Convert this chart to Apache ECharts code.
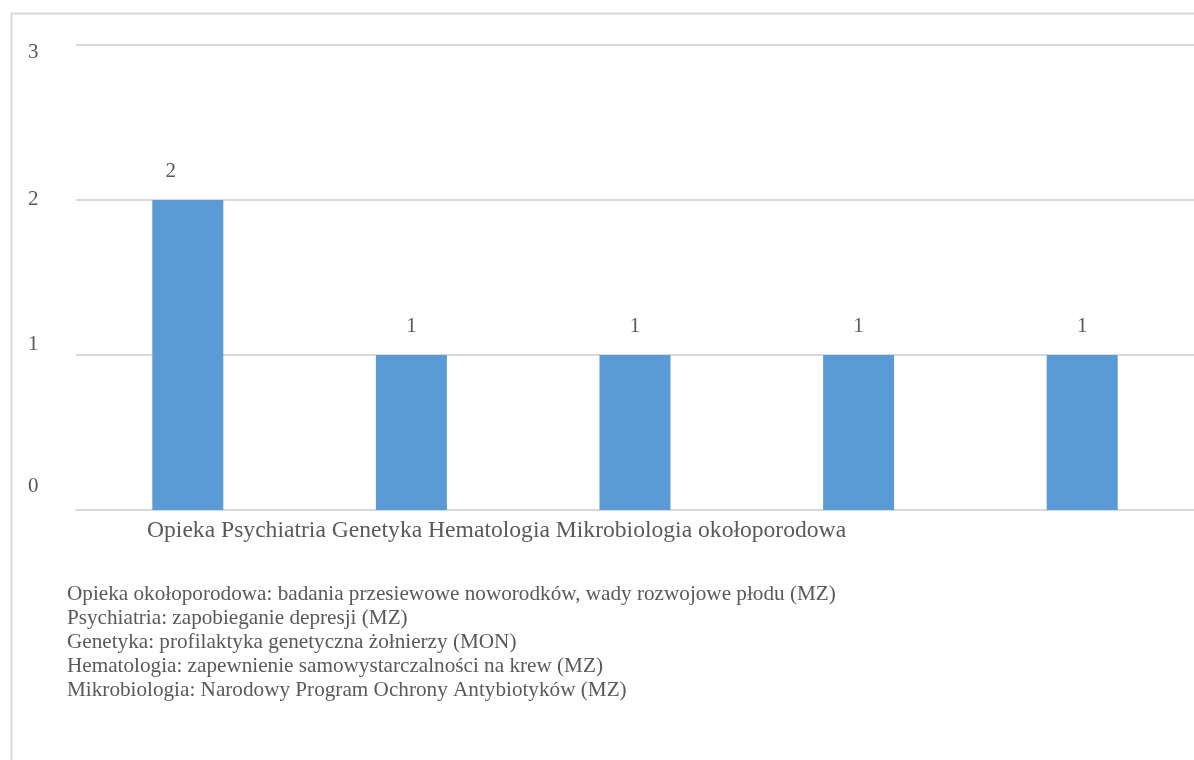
<!DOCTYPE html>
<html>
<head>
<meta charset="utf-8">
<script src="https://cdn.jsdelivr.net/npm/echarts@6/dist/echarts.min.js"></script>
<style>
  html, body { margin: 0; padding: 0; background: #fff; }
  #chart { width: 1194px; height: 760px; }
</style>
</head>
<body>
<div id="chart"></div>
<script>
// data
const categories = ['Opieka okołoporodowa', 'Psychiatria', 'Genetyka', 'Hematologia', 'Mikrobiologia'];
const values = [2, 1, 1, 1, 1];
const yTicks = [0, 1, 2, 3];
// the category row as it appears under the axis (all names on one line)
const axisLine = 'Opieka Psychiatria Genetyka Hematologia Mikrobiologia okołoporodowa';
const notes = [
  'Opieka okołoporodowa: badania przesiewowe noworodków, wady rozwojowe płodu (MZ)',
  'Psychiatria: zapobieganie depresji (MZ)',
  'Genetyka: profilaktyka genetyczna żołnierzy (MON)',
  'Hematologia: zapewnienie samowystarczalności na krew (MZ)',
  'Mikrobiologia: Narodowy Program Ochrony Antybiotyków (MZ)'
];

const font = '"Liberation Serif", "Times New Roman", serif';
const textColor = '#595959';

let chart = echarts.init(document.getElementById('chart'));

let graphics = [
  {
    type: 'rect',
    left: 9, top: 11,
    shape: { width: 1300, height: 900 },
    style: { fill: 'none', stroke: '#d9d9d9', lineWidth: 2 },
    silent: true
  },
  {
    type: 'text',
    left: 147, top: 519,
    style: { text: axisLine, font: '23.6px ' + font, fill: textColor }
  }
];
notes.forEach((n, i) => {
  graphics.push({
    type: 'text',
    left: 67, top: 584 + i * 24,
    style: { text: n, font: '21.2px ' + font, fill: textColor }
  });
});

// the tick labels in the picture sit at slightly uneven heights
const tickPad = {
  0: [0, 0, 48, 0],
  1: [0, 0, 22, 0],
  2: [0, 0, 2, 0],
  3: [14, 0, 0, 0]
};
let rich = {};
yTicks.forEach((t) => {
  rich['t' + t] = { padding: tickPad[t], fontSize: 21, fontFamily: font, color: textColor };
});

let option = {
  animation: false,
  textStyle: { fontFamily: font },
  grid: {
    left: 76,
    top: 45,
    width: 1120,
    height: 465,
    containLabel: false
  },
  xAxis: {
    type: 'category',
    data: categories,
    axisTick: { show: false },
    axisLabel: { show: false },
    axisLine: { show: true, lineStyle: { color: '#d9d9d9', width: 2 } }
  },
  yAxis: {
    type: 'value',
    min: yTicks[0],
    max: yTicks[yTicks.length - 1],
    interval: 1,
    axisLine: { show: false },
    axisTick: { show: false },
    axisLabel: {
      align: 'left',
      margin: 48,
      formatter: (v) => '{t' + v + '|' + v + '}',
      rich: rich
    },
    splitLine: { lineStyle: { color: '#d9d9d9', width: 2 } }
  },
  series: [
    {
      type: 'bar',
      data: values.map((v, i) => (i === 0 ? { value: v, label: { offset: [-17, 0] } } : v)),
      barWidth: 71,
      itemStyle: { color: '#5b9bd5' },
      label: {
        show: true,
        position: 'top',
        distance: 18,
        color: textColor,
        fontSize: 21,
        fontFamily: font
      }
    }
  ],
  graphic: graphics
};
chart.setOption(option);
</script>
</body>
</html>
